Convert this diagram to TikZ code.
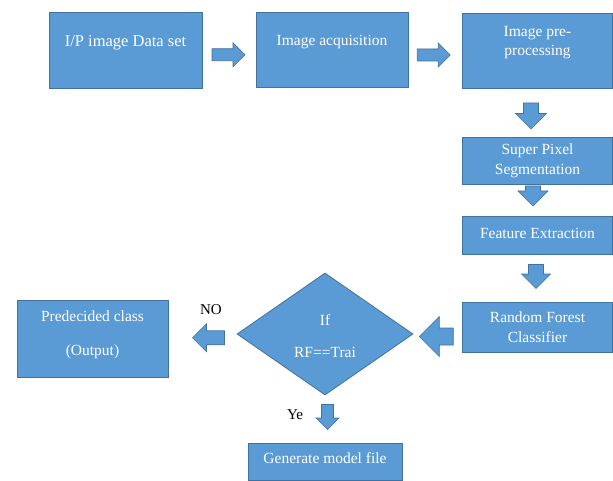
\documentclass[tikz,border=0pt]{standalone}
\usepackage{fontspec}
\setmainfont{Liberation Serif}
\usetikzlibrary{shapes.geometric,calc}
\definecolor{boxfill}{HTML}{5B9BD5}
\definecolor{boxline}{HTML}{41719C}
\tikzset{
  box/.style={draw=boxline, fill=boxfill, line width=0.8pt, inner sep=0pt},
  txt/.style={text=white, align=center, inner sep=0pt},
  fs/.style={font=\fontsize{15.5}{#1}\selectfont},
  lbl/.style={text=black, inner sep=0pt, font=\fontsize{15}{18}\selectfont},
  pics/blk/.style n args={3}{code={
    \filldraw[draw=boxline, fill=boxfill, line width=0.6pt]
      (-#1/2,-#3/2) -- (#1/2-#2/2,-#3/2) -- (#1/2-#2/2,-#2/2) -- (#1/2,0)
      -- (#1/2-#2/2,#2/2) -- (#1/2-#2/2,#3/2) -- (-#1/2,#3/2) -- cycle;
  }},
}
\begin{document}
\begin{tikzpicture}[x=1pt,y=-1pt]
\useasboundingbox[fill=white] (0,0) rectangle (613,481);
% boxes
\node[box, minimum width=153pt, minimum height=76pt,
  label={[txt,fs=19,font=\fontsize{16.5}{19}\selectfont,yshift=7pt]center:I/P image Data set}] (b1) at (125.5,50) {};
\node[box, minimum width=152pt, minimum height=75pt,
  label={[txt,fs=19,yshift=7.5pt]center:Image acquisition}] (b2) at (332,49.5) {};
\node[box, minimum width=150pt, minimum height=75pt,
  label={[txt,fs=19,yshift=8pt]center:Image pre-\\processing}] (b3) at (537.5,50.5) {};
\node[box, minimum width=150pt, minimum height=47pt,
  label={[txt,fs=20,yshift=-0.5pt]center:Super Pixel\\Segmentation}] (b4) at (537.5,160.5) {};
\node[box, minimum width=150pt, minimum height=38pt,
  label={[txt,fs=19,yshift=2pt]center:Feature Extraction}] (b5) at (537.5,235) {};
\node[box, minimum width=150pt, minimum height=50pt,
  label={[txt,fs=20,yshift=0pt]center:Random Forest\\Classifier}] (b6) at (537.5,327) {};
\node[box, shape=diamond, minimum width=176pt, minimum height=122pt,
  label={[txt,fs=32,yshift=-2pt]center:If\\RF==Trai}] (dec) at (325,334) {};
\node[box, minimum width=151pt, minimum height=77pt,
  label={[txt,fs=34,yshift=3.5pt]center:Predecided class\\(Output)}] (pre) at (92.5,338.5) {};
\node[box, minimum width=154pt, minimum height=37pt,
  label={[txt,fs=19,yshift=3.5pt]center:Generate model file}] (gen) at (325,461.5) {};
% labels
\node[lbl] (no) at (211,310) {NO};
\node[lbl] (ye) at (295,415) {Ye};
% block arrows
\pic at ($(b1.east)!0.5!(b2.west)+(-0.5,5)$) {blk={33}{24}{12}};
\pic at ($(b2.east)!0.5!(b3.west)+(-1.5,5)$) {blk={33}{24}{12}};
\pic[rotate=-90] at ($(b3.south)!0.5!(b4.north)+(-6.5,3.5)$) {blk={26}{31}{15}};
\pic[rotate=-90] at ($(b4.south)!0.5!(b5.north)+(-4.5,-4)$) {blk={20}{30}{15}};
\pic[rotate=-90] at ($(b5.south)!0.5!(b6.north)+(-1.5,-1.5)$) {blk={24}{29}{15}};
\pic[rotate=180] at ($(dec.east)!0.5!(b6.west)+(-1.5,6)$) {blk={34}{40}{17}};
\pic[rotate=180] at ($(pre.east)!0.5!(dec.west)+(6,1.5)$) {blk={32}{28}{14}};
\pic[rotate=-90] at ($(dec.south)!0.5!(gen.north)+(2.5,-2)$) {blk={25}{23}{12}};
\end{tikzpicture}
\end{document}
